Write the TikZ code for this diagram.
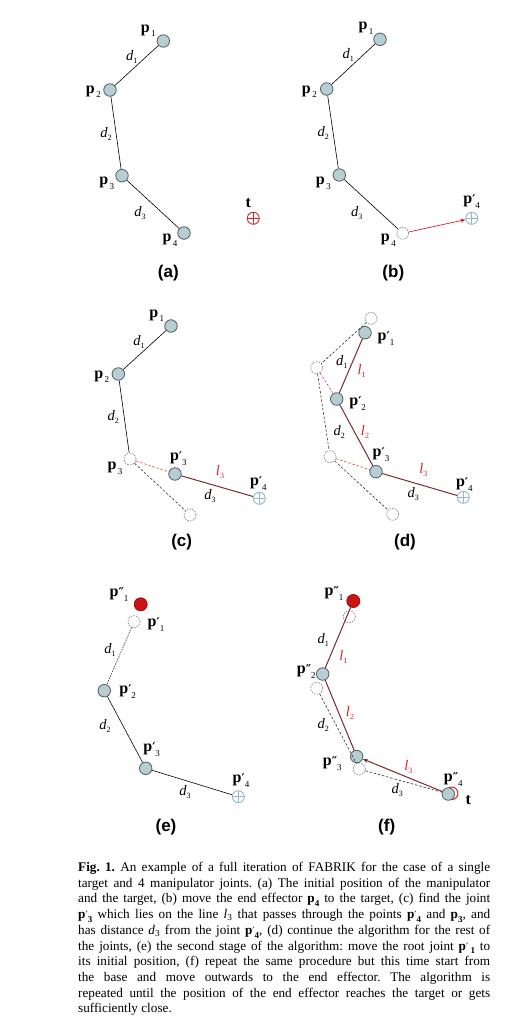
\documentclass[tikz,border=0pt]{standalone}
\usepackage{fontspec}
\setmainfont{Liberation Serif}
\newfontfamily\labsans{Liberation Sans}
\newfontfamily\primefont{DejaVu Serif}
\usetikzlibrary{arrows.meta}
\definecolor{jfill}{HTML}{B8CDD2}
\definecolor{jdraw}{HTML}{4F5F63}
\definecolor{tblue}{HTML}{93BBC7}
\definecolor{dred}{HTML}{7A2B2E}
\definecolor{lred}{HTML}{D8232F}
\definecolor{rootred}{HTML}{CC1414}
\definecolor{ghostgray}{HTML}{8A8A8A}
\newcommand\plab[1]{\textbf{p}\raisebox{-0.3em}{\fontsize{9}{9}\selectfont\,#1}}
\newcommand\pplab[2]{\textbf{p}{\fontsize{12}{12}\selectfont\primefont\bfseries #2}\raisebox{-0.3em}{\fontsize{9}{9}\selectfont #1}}
\newcommand\dlab[1]{\textit{d}\raisebox{-0.2em}{\fontsize{8}{8}\selectfont #1}}
\newcommand\llab[1]{\textcolor{lred}{\textit{l}\raisebox{-0.2em}{\fontsize{8}{8}\selectfont #1}}}
\newcommand\cbp[2]{\textbf{p}{\fontsize{10}{10}\selectfont\primefont #2}\raisebox{-0.3em}{\fontsize{9}{9}\selectfont\bfseries #1}}
\tikzset{
  joint/.style={circle, draw=jdraw, fill=jfill, line width=0.8pt, minimum size=12.5pt, inner sep=0pt},
  ghost/.style={circle, draw=ghostgray, dash pattern=on 1.6pt off 1.2pt, line width=0.7pt, minimum size=12pt, inner sep=0pt},
  rootj/.style={circle, draw=rootred!75!black, fill=rootred, line width=0.8pt, minimum size=13pt, inner sep=0pt},
  target/.style={circle, draw=#1, line width=0.9pt, minimum size=12pt, inner sep=0pt,
    path picture={\draw[#1, line width=0.9pt] (path picture bounding box.north) -- (path picture bounding box.south) (path picture bounding box.west) -- (path picture bounding box.east);}},
  ring/.style={circle, draw=#1, line width=1pt, minimum size=12.5pt, inner sep=0pt},
  lab/.style={font=\fontsize{16}{16}\selectfont, inner sep=0pt},
  dl/.style={font=\fontsize{14.5}{14.5}\selectfont, inner sep=0pt},
  paneltitle/.style={font=\labsans\bfseries\fontsize{17}{17}\selectfont, inner sep=0pt},
  seg/.style={draw=black, line width=0.6pt},
  rseg/.style={draw=dred, line width=1pt},
  rdash/.style={draw=lred!85, dash pattern=on 2.5pt off 1.8pt, line width=0.6pt},
  kdash/.style={draw=black!80, dash pattern=on 2.5pt off 1.8pt, line width=0.6pt},
  kdot/.style={draw=black!80, dash pattern=on 1.4pt off 1.2pt, line width=0.7pt},
  redarrow/.style={draw=lred, line width=0.7pt, -{Stealth[length=5pt,width=4pt]}},
  darrow/.style={draw=dred, line width=1pt, -{Stealth[length=5pt,width=4pt]}}
}
\begin{document}
\begin{tikzpicture}[x=1pt,y=-1pt]
\fill[white] (0,0) rectangle (513,1022);
\useasboundingbox (0,0) rectangle (513,1022);
% ---------- (a)
\node[joint] (a1) at (163.3,41) {};
\node[joint] (a2) at (110,90) {};
\node[joint] (a3) at (122,175.7) {};
\node[joint] (a4) at (184,233) {};
\node[target=lred] (at) at (253.3,218.3) {};
\draw[seg] (a1)--(a2) (a2)--(a3) (a3)--(a4);
\node[lab] (la1) at (148.3,30.7) {\plab{1}};
\node[lab] (la2) at (93.3,91.7) {\plab{2}};
\node[lab] (la3) at (106.7,183.3) {\plab{3}};
\node[lab] (la4) at (170,240) {\plab{4}};
\node[lab] (lat) at (248.3,202.7) {\textbf{t}};
\node[dl] (da1) at (131.7,56.7) {\dlab{1}};
\node[dl] (da2) at (106,134) {\dlab{2}};
\node[dl] (da3) at (140,213.3) {\dlab{3}};
\node[paneltitle] (ta) at (168.3,273.3) {(a)};
% ---------- (b)
\node[joint] (b1) at (380,39.3) {};
\node[joint] (b2) at (326.7,89) {};
\node[joint] (b3) at (339.3,175) {};
\node[ghost] (b4) at (402.7,233.3) {};
\node[target=tblue] (bt) at (471.7,218.3) {};
\draw[seg] (b1)--(b2) (b2)--(b3) (b3)--(b4);
\draw[redarrow] (b4)--(bt);
\node[lab] (lb1) at (366,28.3) {\plab{1}};
\node[lab] (lb2) at (309.3,91.7) {\plab{2}};
\node[lab] (lb3) at (323.3,183.3) {\plab{3}};
\node[lab] (lb4) at (388.3,240) {\plab{4}};
\node[lab] (lbt) at (471.7,201.7) {\pplab{4}{′}};
\node[dl] (db1) at (348.3,55) {\dlab{1}};
\node[dl] (db2) at (323.3,133.3) {\dlab{2}};
\node[dl] (db3) at (356.7,213.3) {\dlab{3}};
\node[paneltitle] (tb) at (393.3,273.3) {(b)};
% ---------- (c)
\node[joint] (c1) at (171,326) {};
\node[joint] (c2) at (118.3,374) {};
\node[ghost] (c3) at (130,459) {};
\node[joint] (c3n) at (175,474) {};
\node[target=tblue] (c4n) at (259.3,498.3) {};
\node[ghost] (c4) at (190,515) {};
\draw[seg] (c1)--(c2) (c2)--(c3);
\draw[rdash] (c3)--(c3n);
\draw[kdash] (c3)--(c4);
\draw[rseg] (c3n)--(c4n);
\node[lab] (lc1) at (156.7,315.7) {\plab{1}};
\node[lab] (lc2) at (101.7,376.7) {\plab{2}};
\node[lab] (lc3) at (115,468.3) {\plab{3}};
\node[lab] (lc3n) at (178.3,458.3) {\pplab{3}{′}};
\node[lab] (lc4n) at (258.3,483.3) {\pplab{4}{′}};
\node[dl] (dc1) at (139,342.3) {\dlab{1}};
\node[dl] (dc2) at (113.3,416.7) {\dlab{2}};
\node[dl] (dc3) at (210,495.7) {\dlab{3}};
\node[dl] (lcl3) at (220,471.7) {\llab{3}};
\node[paneltitle] (tc) at (181.7,541.7) {(c)};
% ---------- (d)
\node[ghost] (d1) at (371,318.3) {};
\node[ghost] (d2) at (316.7,367.7) {};
\node[ghost] (d3) at (330,456.7) {};
\node[ghost] (d4) at (392.7,514.3) {};
\node[joint] (d1n) at (365,332.7) {};
\node[joint] (d2n) at (336.7,399) {};
\node[joint] (d3n) at (376,471.7) {};
\node[target=tblue] (d4n) at (463.3,497.3) {};
\draw[kdash] (d1)--(d2) (d2)--(d3) (d3)--(d4);
\draw[rdash] (d2)--(d2n) (d3)--(d3n);
\draw[rseg] (d1n)--(d2n) (d2n)--(d3n) (d3n)--(d4n);
\node[lab] (ld1n) at (386,338.3) {\pplab{1}{′}};
\node[lab] (ld2n) at (357.7,403.3) {\pplab{2}{′}};
\node[lab] (ld3n) at (381,455) {\pplab{3}{′}};
\node[lab] (ld4n) at (464.3,484.3) {\pplab{4}{′}};
\node[dl] (dd1) at (341.7,361.7) {\dlab{1}};
\node[dl] (dl1) at (361.7,371) {\llab{1}};
\node[dl] (dd2) at (339.3,431.7) {\dlab{2}};
\node[dl] (dl2) at (365,431.7) {\llab{2}};
\node[dl] (dl3) at (423.3,470) {\llab{3}};
\node[dl] (dd3) at (413.3,494.3) {\dlab{3}};
\node[paneltitle] (td) at (405,541.7) {(d)};
% ---------- (e)
\node[rootj] (e1r) at (140.7,604.3) {};
\node[ghost] (e1) at (134,621.7) {};
\node[joint] (e2) at (104.3,690.7) {};
\node[joint] (e3) at (145.7,768.3) {};
\node[target=tblue] (e4) at (238.3,796.7) {};
\draw[kdot] (e1)--(e2);
\draw[seg] (e2)--(e3) (e3)--(e4);
\node[lab] (le1r) at (119,595) {\pplab{1}{″}};
\node[lab] (le1) at (156,625) {\pplab{1}{′}};
\node[lab] (le2) at (127.7,691.7) {\pplab{2}{′}};
\node[lab] (le3) at (151.7,750) {\pplab{3}{′}};
\node[lab] (le4) at (241,781) {\pplab{4}{′}};
\node[dl] (de1) at (110,650) {\dlab{1}};
\node[dl] (de2) at (105,726) {\dlab{2}};
\node[dl] (de3) at (185,791.7) {\dlab{3}};
\node[paneltitle] (te) at (166,826.7) {(e)};
% ---------- (f)
\node[ghost] (f1o) at (349.3,616.7) {};
\node[ghost] (f2o) at (316.7,688.3) {};
\node[ghost] (f3o) at (359.3,769) {};
\node[ring=lred] (ft) at (451.7,793.3) {};
\node[rootj] (f1) at (353.3,601) {};
\node[joint] (f2) at (322.7,674) {};
\node[joint] (f3) at (356.7,756.5) {};
\node[joint] (f4) at (448.3,794) {};
\draw[kdash] (f2o)--(f3o) (f3o)--(f4);
\draw[rseg] (f1)--(f2) (f2)--(f3);
\draw[darrow] (f4)--(f3);
\node[lab] (lf1) at (334,593.3) {\pplab{1}{″}};
\node[lab] (lf2) at (306.3,671.7) {\pplab{2}{″}};
\node[lab] (lf3) at (332.3,763.3) {\pplab{3}{″}};
\node[lab] (lf4) at (453.3,779.3) {\pplab{4}{″}};
\node[lab] (lft) at (468.3,800) {\textbf{t}};
\node[dl] (df1) at (323.3,640) {\dlab{1}};
\node[dl] (dfl1) at (343.3,657.3) {\llab{1}};
\node[dl] (dfl2) at (350,713.3) {\llab{2}};
\node[dl] (df2) at (323.3,725) {\dlab{2}};
\node[dl] (dfl3) at (408.3,766.7) {\llab{3}};
\node[dl] (df3) at (397.3,790) {\dlab{3}};
\node[paneltitle] (tf) at (386.7,826.7) {(f)};
% ---------- caption
\node[anchor=north west, inner sep=0pt, text width=412pt, align=justify,
      font=\fontsize{13.2}{15.7}\selectfont\frenchspacing] (caption) at (78,862) {%
\textbf{Fig. 1.} An example of a full iteration of FABRIK for the case of a single\linebreak
target and 4 manipulator joints. (a) The initial position of the manipulator\linebreak
and the target, (b) move the end effector \cbp{4}{} to the target, (c) find the joint\linebreak
\cbp{3}{′} which lies on the line \textit{l}\textsubscript{3} that passes through the points \cbp{4}{′} and \cbp{3}{}, and\linebreak
has distance \textit{d}\textsubscript{3} from the joint \cbp{4}{′}, (d) continue the algorithm for the rest of\linebreak
the joints, (e) the second stage of the algorithm: move the root joint \textbf{p}{\primefont\fontsize{10}{10}\selectfont ′}\,\raisebox{-0.3em}{\fontsize{9}{9}\selectfont\bfseries 1} to\linebreak
its initial position, (f) repeat the same procedure but this time start from\linebreak
the base and move outwards to the end effector. The algorithm is\linebreak
repeated until the position of the end effector reaches the target or gets\linebreak
sufficiently close.};
\end{tikzpicture}
\end{document}
